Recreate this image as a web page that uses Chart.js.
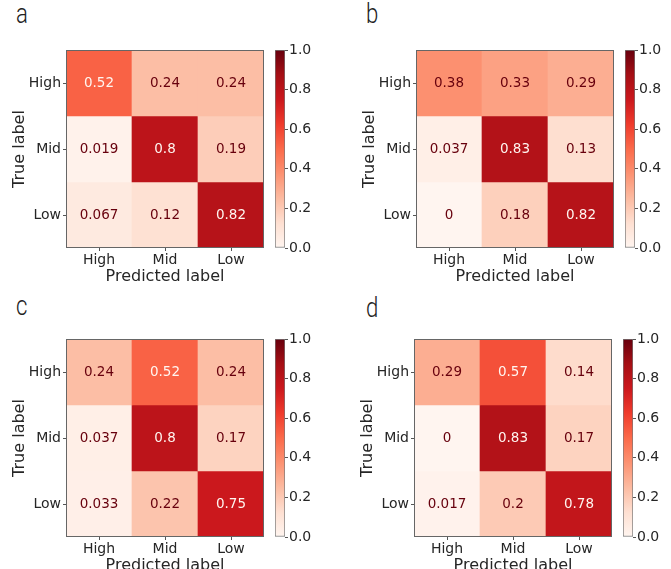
<!DOCTYPE html>
<html lang="en">
<head>
<meta charset="UTF-8">
<title>Confusion matrices</title>
<script src="https://cdn.jsdelivr.net/npm/chart.js"></script>
<style>
  body { margin: 0; background: #fff; width: 671px; height: 569px; overflow: hidden; position: relative; }
  canvas { position: absolute; }
  .tag { position: absolute; font: 300 27px Roboto, sans-serif; line-height: 27px; color: #222;
         transform: scaleX(0.82); transform-origin: left top; }
</style>
</head>
<body>
<div class="tag" style="left:16px;top:1px">a</div>
<div class="tag" style="left:366px;top:1px">b</div>
<div class="tag" style="left:16px;top:293px">c</div>
<div class="tag" style="left:366px;top:295px">d</div>

<canvas id="cmA" width="270" height="254" style="left:0px;top:39px"></canvas>
<canvas id="cbA" width="54" height="218" style="left:275px;top:40px"></canvas>
<canvas id="cmB" width="270" height="254" style="left:350px;top:39px"></canvas>
<canvas id="cbB" width="54" height="218" style="left:625px;top:40px"></canvas>
<canvas id="cmC" width="270" height="254" style="left:0px;top:328px"></canvas>
<canvas id="cbC" width="54" height="218" style="left:275px;top:329px"></canvas>
<canvas id="cmD" width="270" height="254" style="left:348px;top:328px"></canvas>
<canvas id="cbD" width="54" height="218" style="left:623px;top:329px"></canvas>

<script>
const predLabels = ['High', 'Mid', 'Low'];
const trueLabels = ['High', 'Mid', 'Low'];

// rows = true label, columns = predicted label
const cmA = [
  [0.52, 0.24, 0.24],
  [0.019, 0.8, 0.19],
  [0.067, 0.12, 0.82]
];
const cmB = [
  [0.38, 0.33, 0.29],
  [0.037, 0.83, 0.13],
  [0, 0.18, 0.82]
];
const cmC = [
  [0.24, 0.52, 0.24],
  [0.037, 0.8, 0.17],
  [0.033, 0.22, 0.75]
];
const cmD = [
  [0.29, 0.57, 0.14],
  [0, 0.83, 0.17],
  [0.017, 0.2, 0.78]
];

const cbarTicks = [0, 0.2, 0.4, 0.6, 0.8, 1.0];

// matplotlib "Reds"
const reds = ['#fff5f0', '#fee0d2', '#fcbba1', '#fc9272', '#fb6a4a', '#ef3b2c', '#cb181d', '#a50f15', '#67000d'];

Chart.defaults.font.family = '"DejaVu Sans", sans-serif';
Chart.defaults.color = '#262626';

function hex(c) {
  return [1, 3, 5].map(i => parseInt(c.substr(i, 2), 16));
}

function redsAt(v) {
  const t = Math.min(Math.max(v, 0), 1) * (reds.length - 1);
  const i = Math.min(Math.floor(t), reds.length - 2);
  const f = t - i;
  const a = hex(reds[i]), b = hex(reds[i + 1]);
  return 'rgb(' + a.map((x, k) => Math.round(x + (b[k] - x) * f)).join(',') + ')';
}

// cell values + outer frame
function cellText(cm) {
  const flat = cm.flat();
  const thresh = (Math.max(...flat) + Math.min(...flat)) / 2;
  return {
    id: 'cellText',
    afterDatasetsDraw(chart) {
      const ctx = chart.ctx;
      ctx.save();
      ctx.font = '13.5px "DejaVu Sans"';
      ctx.textAlign = 'center';
      ctx.textBaseline = 'middle';
      chart.data.datasets.forEach((ds, i) => {
        chart.getDatasetMeta(i).data.forEach((bar, j) => {
          const v = cm[i][j];
          const p = bar.getCenterPoint();
          ctx.fillStyle = v < thresh ? reds[8] : reds[0];
          ctx.fillText(String(v), p.x, p.y);
        });
      });
      const a = chart.chartArea;
      ctx.strokeStyle = '#666';
      ctx.lineWidth = 1;
      ctx.strokeRect(a.left + 0.5, a.top + 0.5, a.right - a.left - 1, a.bottom - a.top - 1);
      ctx.restore();
    }
  };
}

function matrix(id, cm) {
  new Chart(document.getElementById(id), {
    type: 'bar',
    data: {
      labels: predLabels,
      datasets: trueLabels.map((lab, i) => ({
        label: lab,
        data: predLabels.map(() => 1),
        backgroundColor: cm[i].map(redsAt),
        borderWidth: 0,
        barPercentage: 1,
        categoryPercentage: 1
      }))
    },
    options: {
      responsive: false,
      animation: false,
      layout: { padding: { left: 0, top: 11, right: 6, bottom: 0 } },
      plugins: { legend: { display: false }, tooltip: { enabled: false } },
      scales: {
        x: {
          stacked: true,
          grid: { offset: false, drawOnChartArea: false, tickLength: 3, tickColor: '#555' },
          border: { display: false },
          ticks: { font: { size: 14 }, padding: 1 },
          title: { display: true, text: 'Predicted label', font: { size: 16 }, padding: { top: 0, bottom: 7 } },
          afterFit: s => { s.height = 45; }
        },
        y: {
          stacked: true,
          reverse: true,
          min: 0,
          max: trueLabels.length,
          afterBuildTicks: s => { s.ticks = trueLabels.map((_, i) => ({ value: i + 0.5 })); },
          grid: { drawOnChartArea: false, tickLength: 3, tickColor: '#555' },
          border: { display: false },
          ticks: { font: { size: 14 }, padding: 2, callback: v => trueLabels[Math.floor(v)] },
          title: { display: true, text: 'True label', font: { size: 16 }, padding: { top: 10, bottom: 0 } },
          afterFit: s => { s.width = 66; }
        }
      }
    },
    plugins: [cellText(cm)]
  });
}

function colorbar(id) {
  new Chart(document.getElementById(id), {
    type: 'bar',
    data: {
      labels: [''],
      datasets: [{
        data: [[cbarTicks[0], cbarTicks[cbarTicks.length - 1]]],
        backgroundColor: c => {
          const a = c.chart.chartArea;
          if (!a) return reds[4];
          const g = c.chart.ctx.createLinearGradient(0, a.bottom, 0, a.top);
          reds.forEach((col, i) => g.addColorStop(i / (reds.length - 1), col));
          return g;
        },
        borderColor: '#777',
        borderWidth: 1,
        borderSkipped: false,
        barPercentage: 1,
        categoryPercentage: 1
      }]
    },
    options: {
      responsive: false,
      animation: false,
      layout: { padding: { left: 0, top: 10, right: 0, bottom: 10 } },
      plugins: { legend: { display: false }, tooltip: { enabled: false } },
      scales: {
        x: { display: false },
        y: {
          position: 'right',
          min: 0,
          max: 1,
          afterBuildTicks: s => { s.ticks = cbarTicks.map(v => ({ value: v })); },
          grid: { drawOnChartArea: false, tickLength: 3, tickColor: '#555' },
          border: { display: false },
          ticks: { font: { size: 14 }, padding: 1, callback: v => v.toFixed(1) },
          afterFit: s => { s.width = 44; }
        }
      }
    }
  });
}

matrix('cmA', cmA);
matrix('cmB', cmB);
matrix('cmC', cmC);
matrix('cmD', cmD);
colorbar('cbA');
colorbar('cbB');
colorbar('cbC');
colorbar('cbD');
</script>
</body>
</html>
